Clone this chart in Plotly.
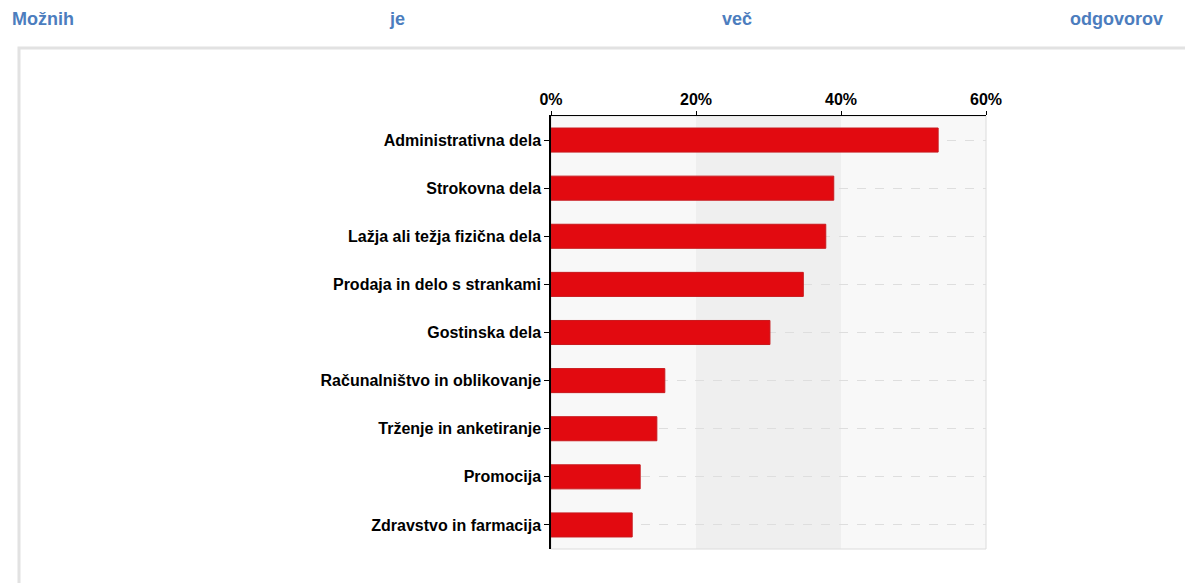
import plotly.graph_objects as go

categories = ["Administrativna dela", "Strokovna dela", "Lažja ali težja fizična dela",
              "Prodaja in delo s strankami", "Gostinska dela", "Računalništvo in oblikovanje",
              "Trženje in anketiranje", "Promocija", "Zdravstvo in farmacija"]
values = [53.4, 39.0, 37.9, 34.8, 30.2, 15.7, 14.6, 12.3, 11.2]
header_words = ["Možnih", "je", "več", "odgovorov"]
x_ticks = [0, 20, 40, 60]

W, H = 1185, 583
L, R, T, B = 551, 199, 116, 34
pw, ph = W - L - R, H - T - B

def px(x):
    return (x - L) / pw

def py(y):
    return (H - B - y) / ph

fig = go.Figure()
fig.add_trace(go.Bar(
    y=categories, x=values, orientation="h",
    marker=dict(color="#e20a10", line=dict(color="#c9191d", width=1)),
    width=0.5,
))

shapes = [
    dict(type="rect", xref="x", yref="paper", x0=20, x1=40, y0=0, y1=1,
         fillcolor="#efefef", line=dict(width=0), layer="below"),
    dict(type="rect", xref="paper", yref="paper", x0=0, x1=1, y0=0, y1=1,
         line=dict(color="#dcdcdc", width=1), layer="below"),
    dict(type="rect", xref="paper", yref="paper", x0=px(19), x1=px(1210), y0=py(48), y1=py(600),
         line=dict(color="#e2e2e2", width=3)),
]

annotations = []
pos = [(10, "left"), (397, "center"), (737, "center"), (1165, "right")]
for w, (xp, anc) in zip(header_words, pos):
    annotations.append(dict(text=f"<b>{w}</b>", xref="paper", yref="paper", x=px(xp), y=py(19),
                            xanchor=anc, yanchor="middle", showarrow=False,
                            font=dict(family="Arial, Liberation Sans", size=18, color="#4c7dbe")))

fig.update_layout(
    width=W, height=H, margin=dict(l=L, r=R, t=T, b=B),
    paper_bgcolor="white", plot_bgcolor="#f8f8f8",
    showlegend=False,
    shapes=shapes, annotations=annotations,
    xaxis=dict(side="top", range=[0, 60], tickvals=x_ticks,
               ticktext=[f"<b>{v}%</b>" for v in x_ticks],
               showline=True, linecolor="black", linewidth=1, ticks="outside", ticklen=4,
               tickcolor="black", showgrid=False, zeroline=False,
               tickfont=dict(family="Arial, Liberation Sans", size=16, color="black"),
               fixedrange=True),
    yaxis=dict(autorange="reversed", showline=True, linecolor="black", linewidth=1.5,
               ticks="outside", ticklen=5, tickcolor="black",
               tickvals=categories, ticktext=[f"<b>{c}</b>" for c in categories],
               showgrid=True, gridcolor="#dedede", griddash="dash", gridwidth=1,
               tickfont=dict(family="Arial, Liberation Sans", size=16, color="black"),
               ticksuffix=" ", fixedrange=True),
    font=dict(family="Arial, Liberation Sans"),
)

fig.write_html("out.html")
